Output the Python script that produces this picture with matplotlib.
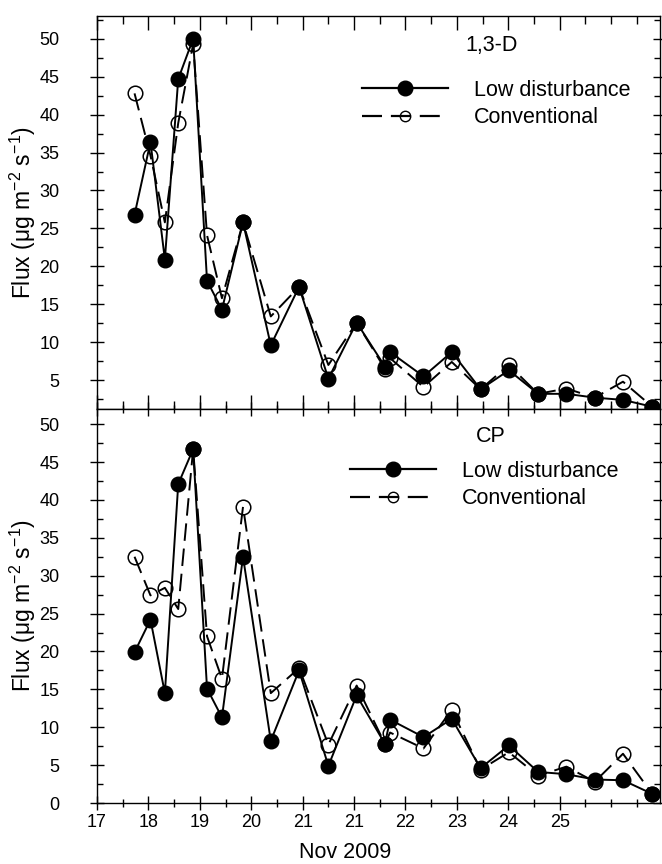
import matplotlib
matplotlib.use("Agg")
import matplotlib.pyplot as plt
from matplotlib.lines import Line2D
from matplotlib.ticker import MultipleLocator

plt.rcParams['font.family'] = ['Liberation Sans', 'DejaVu Sans']
plt.rcParams['mathtext.default'] = 'regular'

# sampling times (in tick units, 17 = first tick)
tiempo = [17.73, 18.04, 18.32, 18.58, 18.87, 19.14, 19.43, 19.84, 20.38, 20.93,
          21.50, 22.05, 22.60, 22.70, 23.35, 23.90, 24.46, 25.01, 25.58, 26.13,
          26.68, 27.23, 27.80]
xtick_etiquetas = ['17', '18', '19', '20', '21', '21', '22', '23', '24', '25']

# 1,3-D
d13_baja = [26.8, 36.4, 20.9, 44.7, 50.0, 18.1, 14.3, 25.8, 9.6, 17.3, 5.2, 12.6,
            6.8, 8.7, 5.5, 8.7, 3.8, 6.3, 3.2, 3.2, 2.7, 2.4, 1.5]
d13_conv = [42.8, 34.6, 25.8, 38.9, 49.3, 24.1, 15.8, 25.8, 13.4, 17.3, 7.0, 12.6,
            6.5, 7.9, 4.1, 7.4, 3.8, 7.0, 3.2, 3.9, 2.7, 4.8, 1.5]

# CP
cp_baja = [19.9, 24.2, 14.5, 42.1, 46.7, 15.1, 11.3, 32.5, 8.2, 17.5, 4.9, 14.2,
           7.8, 11.0, 8.7, 11.1, 4.6, 7.6, 4.1, 3.8, 3.1, 3.0, 1.2]
cp_conv = [32.5, 27.4, 28.4, 25.6, 46.7, 22.0, 16.4, 39.1, 14.5, 17.8, 7.7, 15.5,
           7.8, 9.3, 7.2, 12.3, 4.4, 6.7, 3.6, 4.8, 2.8, 6.5, 1.2]

etiquetas = ['Low disturbance', 'Conventional']
paneles = ['1,3-D', 'CP']

W, H = 662, 864
fig = plt.figure(figsize=(W / 100, H / 100), dpi=100)
izq, der = 97 / W, 660 / W
ax1 = fig.add_axes([izq, 1 - 409 / H, der - izq, (409 - 16) / H])
ax2 = fig.add_axes([izq, 1 - 803 / H, der - izq, (803 - 409) / H])

guiones = (0, (9, 4))


def dibujar(ax, baja, conv, titulo, ylim, leg_xy, tit_xy):
    ax.plot(tiempo, baja, color='black', lw=1.4, marker='o', ms=10.5,
            mfc='black', mec='black', zorder=3)
    ax.plot(tiempo, conv, color='black', lw=1.4, ls=guiones, marker='o', ms=10.5,
            mfc='none', mec='black', mew=1.1, zorder=4)
    ax.set_xlim(17, 27.95)
    ax.set_ylim(*ylim)
    ax.set_xticks(range(17, 27))
    ax.xaxis.set_minor_locator(MultipleLocator(0.5))
    ax.yaxis.set_major_locator(MultipleLocator(5))
    ax.yaxis.set_minor_locator(MultipleLocator(2.5))
    ax.tick_params(axis='y', which='major', direction='inout', length=10, width=1,
                   labelsize=13, right=True, pad=22)
    ax.tick_params(axis='y', which='minor', direction='in', length=4, width=1, right=True)
    ax.tick_params(axis='x', which='major', direction='inout', length=10, width=1,
                   labelsize=13, top=True, pad=3)
    ax.tick_params(axis='x', which='minor', direction='inout', length=6, width=1, top=True)
    for s in ax.spines.values():
        s.set_linewidth(1.0)
    ax.set_ylabel('Flux (\u03bcg m$^{-2}$ s$^{-1}$)', fontsize=16.5)
    ax.text(tit_xy[0], tit_xy[1], titulo, transform=ax.transAxes, fontsize=15.5,
            ha='center', va='center')
    h1 = Line2D([], [], color='black', lw=1.6, marker='o', ms=10.5, mfc='black')
    h2 = Line2D([], [], color='black', lw=1.6, ls=guiones, marker='o', ms=7.5,
                mfc='none', mew=1.0)
    ax.legend([h1, h2], etiquetas, loc='upper left', bbox_to_anchor=leg_xy,
              frameon=False, fontsize=15.5, handlelength=4.0, handletextpad=1.2,
              labelspacing=0.3, borderpad=0, borderaxespad=0)


dibujar(ax1, d13_baja, d13_conv, paneles[0], (1.2, 53.0), (0.47, 0.838), (0.70, 0.925))
dibujar(ax2, cp_baja, cp_conv, paneles[1], (0, 52.0), (0.45, 0.868), (0.70, 0.93))

ax1.tick_params(axis='x', which='both', labelbottom=False)
ax1.tick_params(axis='x', which='both', top=True, direction='in')
ax2.tick_params(axis='x', which='both', top=True)
ax2.set_xticklabels(xtick_etiquetas)
ax1.yaxis.set_label_coords(-0.105, 0.5)
ax2.yaxis.set_label_coords(-0.105, 0.5)

fig.text(345 / W, 1 - 852 / H, 'Nov 2009', fontsize=15.5, ha='center', va='center')

fig.savefig('out.png', dpi=100)
